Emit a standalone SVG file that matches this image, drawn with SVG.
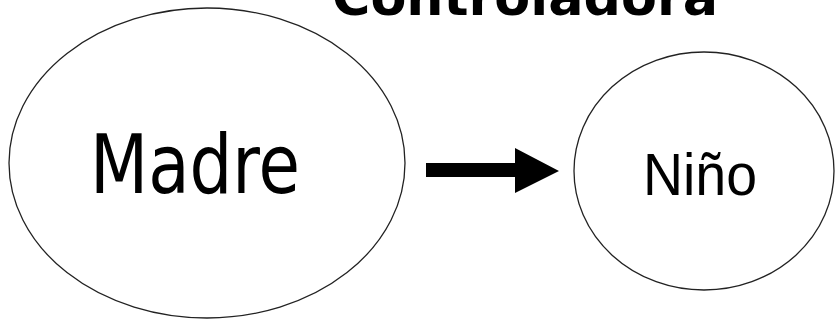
<svg xmlns="http://www.w3.org/2000/svg" width="835" height="321" viewBox="0 0 835 321">
  <style>
    .node { fill: #ffffff; stroke: #222222; stroke-width: 1.3; }
    .title { font-family: "DejaVu Sans", Verdana, sans-serif; font-weight: bold; fill: #000; }
    .label { font-family: "DejaVu Sans", Tahoma, sans-serif; fill: #000; }
    .label2 { font-family: "Liberation Sans", Arial, sans-serif; fill: #000; }
  </style>
  <rect width="835" height="321" fill="#ffffff"/>
  <text class="title" x="332" y="15" font-size="52" textLength="386" lengthAdjust="spacingAndGlyphs">Controladora</text>
  <g id="madre">
    <ellipse class="node" cx="207" cy="163" rx="198" ry="155"/>
    <text class="label" x="90" y="193" font-size="82" textLength="210" lengthAdjust="spacingAndGlyphs">Madre</text>
  </g>
  <g id="nino">
    <ellipse class="node" cx="704" cy="171" rx="130" ry="119"/>
    <text class="label2" x="643" y="195" font-size="59" textLength="114" lengthAdjust="spacingAndGlyphs">Niño</text>
  </g>
  <g id="connectors">
    <polygon points="426,163 515,163 515,148 559,171 515,193 515,177 426,177" fill="#000"/>
  </g>
</svg>
